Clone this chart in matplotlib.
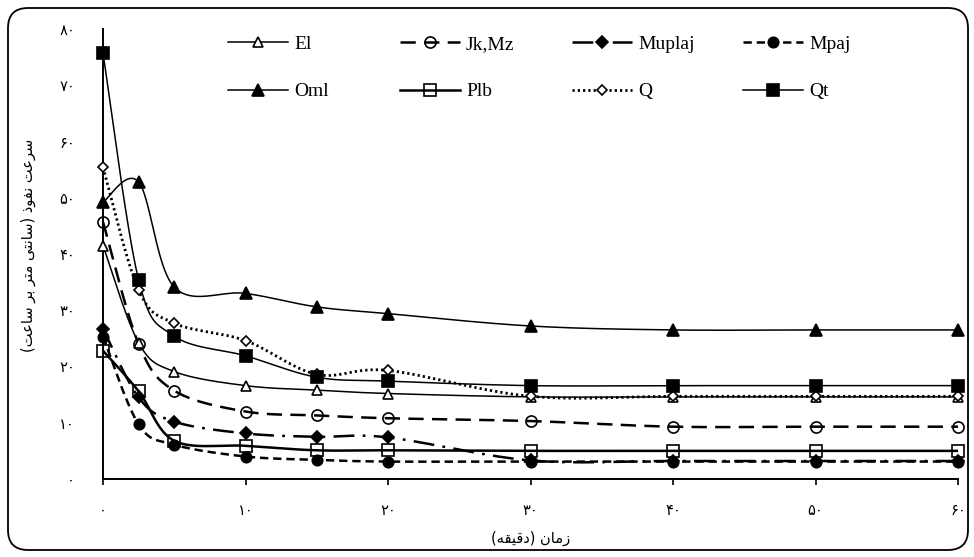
import numpy as np
import matplotlib
matplotlib.use("Agg")
import matplotlib.pyplot as plt
from matplotlib.lines import Line2D
from matplotlib.legend import Legend
from matplotlib.patches import FancyBboxPatch

plt.rcParams['lines.scale_dashes'] = False

# ---------------- data ----------------
x_minutes = [0, 2.5, 5, 10, 15, 20, 30, 40, 50, 60]
series_names = ["El", "Jk,Mz", "Muplaj", "Mpaj", "Oml", "Plb", "Q", "Qt"]
El = [41.5, 24.2, 19.1, 16.6, 15.8, 15.2, 14.6, 14.6, 14.6, 14.6]
JkMz = [45.7, 24.0, 15.7, 12.0, 11.3, 10.8, 10.3, 9.3, 9.3, 9.3]
Muplaj = [26.7, 14.5, 10.2, 8.1, 7.5, 7.4, 3.3, 3.2, 3.2, 3.2]
Mpaj = [25.3, 9.7, 6.1, 4.0, 3.4, 3.1, 3.1, 3.1, 3.1, 3.1]
Oml = [49.2, 52.8, 34.1, 33.0, 30.6, 29.4, 27.2, 26.5, 26.5, 26.5]
Plb = [22.8, 15.6, 6.8, 5.9, 5.1, 5.1, 5.0, 5.0, 5.0, 5.0]
Q = [55.4, 33.6, 27.7, 24.6, 18.6, 19.3, 14.7, 14.7, 14.7, 14.7]
Qt = [75.7, 35.4, 25.4, 21.9, 18.1, 17.4, 16.6, 16.6, 16.6, 16.6]

x_ticks = [0, 10, 20, 30, 40, 50, 60]
y_ticks = [0, 10, 20, 30, 40, 50, 60, 70, 80]
fa_digits = "\u06F0\u06F1\u06F2\u06F3\u06F4\u06F5\u06F6\u06F7\u06F8\u06F9"

# Persian labels (presentation forms, visual order)
x_label = "(" + "\uFEEA\uFED8\uFEF4\uFED7\uFEA9" + ")" + " " + "\uFEE5\uFE8E\uFEE3\uFEAF"
w_saat = "\uFE96\uFECB\uFE8E\uFEB3"
w_bar = "\uFEAE\uFE91"
w_metr = "\uFEAE\uFE98\uFEE3"
w_santi = "\uFEF0\uFE98\uFEE7\uFE8E\uFEB3"
w_nofuz = "\uFEAB\uFEEE\uFED4\uFEE7"
w_sorat = "\uFE96\uFECB\uFEAE\uFEB3"
y_label = "(" + w_saat + " " + w_bar + " " + w_metr + " " + w_santi + ")" + " " + w_nofuz + " " + w_sorat


def fa(n):
    return "".join(fa_digits[int(c)] for c in str(n))


# ---------------- figure ----------------
W, H = 974, 557
fig = plt.figure(figsize=(W / 100, H / 100), dpi=100)
ax = fig.add_axes([103 / W, 1 - 479 / H, (958 - 103) / W, (479 - 29) / H])
ax.set_xlim(0, 60)
ax.set_ylim(0, 80)

# rounded outer border
border = FancyBboxPatch((0.08, 0.07), 9.60, 5.42,
                        boxstyle="round,pad=0,rounding_size=0.2",
                        transform=fig.dpi_scale_trans, fill=False,
                        edgecolor="black", linewidth=1.3, zorder=0)
fig.patches.append(border)


def smooth(ax, xs, ys, n=25):
    pts = ax.transData.transform(np.column_stack([xs, ys]))
    out = []
    m = len(pts)
    t = np.linspace(0, 1, n)[:, None]
    for i in range(m - 1):
        p0 = pts[i - 1] if i > 0 else pts[i]
        p1 = pts[i]
        p2 = pts[i + 1]
        p3 = pts[i + 2] if i + 2 < m else pts[i + 1]
        c1 = p1 + (p2 - p0) / 6.0
        c2 = p2 - (p3 - p1) / 6.0
        seg = (1 - t) ** 3 * p1 + 3 * (1 - t) ** 2 * t * c1 + 3 * (1 - t) * t ** 2 * c2 + t ** 3 * p2
        out.append(seg if i == 0 else seg[1:])
    d = ax.transData.inverted().transform(np.vstack(out))
    return d[:, 0], d[:, 1]


styles = {
    "El": dict(data=El, ls="-", lw=1.1, marker="^", ms=7.5, mfc="white"),
    "Jk,Mz": dict(data=JkMz, ls=(0, (11, 6)), lw=1.8, marker="o", ms=8, mfc="none"),
    "Muplaj": dict(data=Muplaj, ls=(0, (15, 6, 2, 6)), lw=1.8, marker="D", ms=6.5, mfc="black"),
    "Mpaj": dict(data=Mpaj, ls=(0, (6, 3.5)), lw=1.8, marker="o", ms=7.5, mfc="black"),
    "Oml": dict(data=Oml, ls="-", lw=1.1, marker="^", ms=8, mfc="black"),
    "Plb": dict(data=Plb, ls="-", lw=1.8, marker="s", ms=8, mfc="none"),
    "Q": dict(data=Q, ls=(0, (1.6, 2.2)), lw=2.0, marker="D", ms=5.5, mfc="white"),
    "Qt": dict(data=Qt, ls="-", lw=1.1, marker="s", ms=8, mfc="black"),
}

handles = {}
for name in series_names:
    st = styles[name]
    sx, sy = smooth(ax, x_minutes, st["data"])
    ax.plot(sx, sy, color="black", ls=st["ls"], lw=st["lw"], zorder=2)
    ax.plot(x_minutes, st["data"], ls="none", marker=st["marker"], ms=st["ms"],
            mfc=st["mfc"], mec="black", mew=1.2, zorder=3, clip_on=False)
    handles[name] = Line2D([], [], color="black", ls=st["ls"], lw=st["lw"],
                           marker=st["marker"], ms=st["ms"], mfc=st["mfc"],
                           mec="black", mew=1.2)

# axes styling
for s in ["top", "right"]:
    ax.spines[s].set_visible(False)
for s in ["left", "bottom"]:
    ax.spines[s].set_linewidth(1.4)
ax.set_xticks(x_ticks)
ax.set_xticklabels([fa(v) for v in x_ticks], fontfamily="DejaVu Sans", fontsize=10.5)
ax.set_yticks(y_ticks)
ax.set_yticklabels([fa(v) for v in y_ticks], fontfamily="DejaVu Sans", fontsize=10.5)
ax.tick_params(axis="x", direction="out", length=4, width=1.2, pad=13)
ax.tick_params(axis="y", length=0, pad=20)

ax.set_xlabel(x_label, fontfamily="DejaVu Sans", fontsize=10.5)
ax.xaxis.set_label_coords(0.5, -0.115)
ax.set_ylabel(y_label, fontfamily="DejaVu Sans", fontsize=10.5)
ax.yaxis.set_label_coords(-0.078, 0.52)

# legend: 4 columns of 2 rows
cols = [["El", "Oml"], ["Jk,Mz", "Plb"], ["Muplaj", "Q"], ["Mpaj", "Qt"]]
col_x = [228, 400, 572, 743]
for cx, names in zip(col_x, cols):
    leg = Legend(ax, [handles[n] for n in names], names, loc="upper left",
                 bbox_to_anchor=(cx / W, 1 - 35 / H), bbox_transform=fig.transFigure,
                 frameon=False, borderpad=0, borderaxespad=0, handlelength=3.1,
                 handletextpad=0.3, labelspacing=1.55, numpoints=1,
                 prop=dict(family="Liberation Serif", size=14))
    ax.add_artist(leg)

fig.savefig("out.png", dpi=100)
